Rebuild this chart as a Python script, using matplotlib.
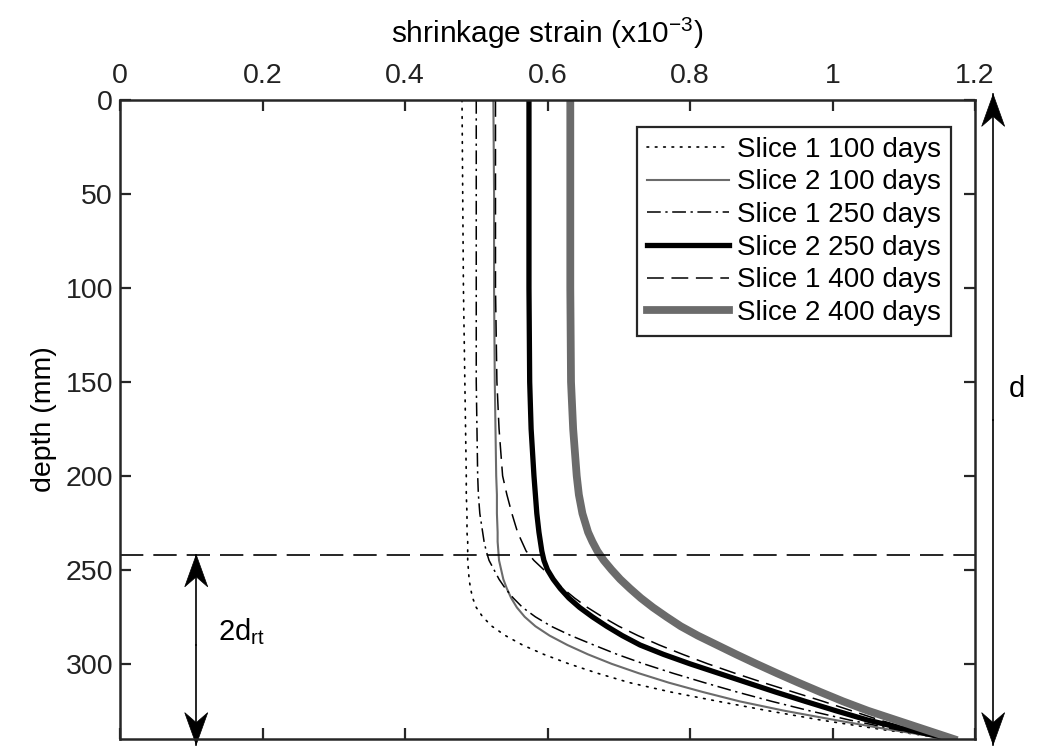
import numpy as np
import matplotlib
matplotlib.use("Agg")
import matplotlib.pyplot as plt
from matplotlib.patches import Polygon
from matplotlib.transforms import ScaledTranslation

plt.rcParams['font.family'] = ['Liberation Sans', 'DejaVu Sans']
plt.rcParams['mathtext.fontset'] = 'custom'
plt.rcParams['mathtext.rm'] = 'Liberation Sans'
plt.rcParams['mathtext.it'] = 'Liberation Sans'

# depth below top surface (mm)
depth = [0, 50, 100, 150, 175, 200, 210, 220, 230, 235, 240, 245, 250, 255, 260, 265, 270,
         275, 280, 285, 290, 295, 300, 305, 310, 315, 320, 325, 330, 335, 340]

# shrinkage strain (x10^-3) along the depth
s1_100 = [0.480, 0.481, 0.482, 0.484, 0.485, 0.486, 0.486, 0.487, 0.487, 0.488, 0.488, 0.488,
          0.489, 0.490, 0.492, 0.495, 0.500, 0.509, 0.522, 0.541, 0.565, 0.595, 0.630, 0.670,
          0.715, 0.773, 0.840, 0.910, 0.985, 1.070, 1.165]
s2_100 = [0.524, 0.525, 0.525, 0.526, 0.527, 0.528, 0.529, 0.529, 0.530, 0.530, 0.531, 0.532,
          0.535, 0.538, 0.543, 0.549, 0.557, 0.568, 0.583, 0.603, 0.628, 0.657, 0.690, 0.728,
          0.770, 0.818, 0.870, 0.933, 1.005, 1.080, 1.165]
s1_250 = [0.500, 0.500, 0.500, 0.500, 0.501, 0.502, 0.503, 0.505, 0.509, 0.511, 0.514, 0.518,
          0.525, 0.532, 0.541, 0.552, 0.565, 0.583, 0.605, 0.633, 0.665, 0.698, 0.735, 0.776,
          0.820, 0.866, 0.915, 0.968, 1.025, 1.090, 1.165]
s2_250 = [0.574, 0.574, 0.574, 0.575, 0.577, 0.581, 0.583, 0.585, 0.588, 0.590, 0.592, 0.595,
          0.600, 0.608, 0.618, 0.630, 0.645, 0.663, 0.683, 0.705, 0.730, 0.763, 0.800, 0.840,
          0.880, 0.920, 0.962, 1.005, 1.050, 1.105, 1.165]
s1_400 = [0.527, 0.527, 0.527, 0.529, 0.532, 0.537, 0.543, 0.550, 0.558, 0.564, 0.570, 0.581,
          0.595, 0.608, 0.622, 0.638, 0.656, 0.677, 0.700, 0.727, 0.757, 0.790, 0.825, 0.863,
          0.903, 0.945, 0.987, 1.027, 1.067, 1.112, 1.165]
s2_400 = [0.632, 0.632, 0.632, 0.633, 0.636, 0.641, 0.644, 0.649, 0.657, 0.663, 0.670, 0.679,
          0.690, 0.702, 0.716, 0.731, 0.748, 0.767, 0.787, 0.811, 0.838, 0.865, 0.893, 0.922,
          0.952, 0.983, 1.015, 1.050, 1.090, 1.130, 1.170]

labels = ['Slice 1 100 days', 'Slice 2 100 days', 'Slice 1 250 days',
          'Slice 2 250 days', 'Slice 1 400 days', 'Slice 2 400 days']

d_rt2 = 242      # 2*d_rt line
d_total = 340    # section depth

gray = '#6b6b6b'
ink = '#262626'

fig = plt.figure(figsize=(10.47, 7.49), dpi=100)
ax = fig.add_axes([120/1047, 10/749, 855/1047, 639/749])

ax.plot(s1_100, depth, color='k', lw=1.2, linestyle=(0, (1, 4)), dash_capstyle='round', label=labels[0])
ax.plot(s2_100, depth, color=gray, lw=1.5, label=labels[1])
ax.plot(s1_250, depth, color='k', lw=1.1, linestyle=(0, (9, 3, 1.5, 3)), label=labels[2])
ax.plot(s2_250, depth, color='k', lw=3.8, label=labels[3])
ax.plot(s1_400, depth, color='k', lw=1.1, linestyle=(0, (11, 5)), label=labels[4])
ax.plot(s2_400, depth, color=gray, lw=5.6, label=labels[5])

ax.axhline(d_rt2, color='k', lw=1.2, linestyle=(0, (14, 6)))

ax.set_xlim(0, 1.2)
ax.set_ylim(d_total, 0)
ax.set_xticks([0, 0.2, 0.4, 0.6, 0.8, 1, 1.2])
ax.set_xticklabels(['0', '0.2', '0.4', '0.6', '0.8', '1', '1.2'])
ax.set_yticks([0, 50, 100, 150, 200, 250, 300])
ax.xaxis.tick_top()
ax.xaxis.set_label_position('top')
ax.tick_params(direction='in', length=8, width=1.6, colors=ink, labelsize=20.5,
               top=True, bottom=True, left=True, right=True, pad=5)
ax.tick_params(axis='x', pad=8)
ax.tick_params(labelcolor='#222222')
for sp in ax.spines.values():
    sp.set_linewidth(1.8)
    sp.set_color(ink)

ax.set_xlabel('shrinkage strain (x10$^{-3}$)', fontsize=21.5, labelpad=14)
ax.set_ylabel('depth (mm)', fontsize=20.5, labelpad=6)

leg = ax.legend(loc='upper right', bbox_to_anchor=(0.972, 0.958), borderaxespad=0,
                fontsize=20, handlelength=2.95, handletextpad=0.3, labelspacing=0.24,
                fancybox=False, framealpha=1, edgecolor=ink, borderpad=0.35)
leg.get_frame().set_linewidth(1.6)


def arrow(x0, y_tail, y_tip):
    # shaft plus a notched arrowhead at y_tip (sizes in pixels)
    ax.plot([x0, x0], [y_tail, y_tip], color='k', lw=1.2, clip_on=False)
    back = -1 if y_tip < y_tail else 1
    head = [(0, 0), (-11.5, 32 * back), (0, 22 * back), (11.5, 32 * back)]
    head = [(hx / 100, hy / 100) for hx, hy in head]
    tr = fig.dpi_scale_trans + ScaledTranslation(x0, y_tip, ax.transData)
    ax.add_patch(Polygon(head, closed=True, facecolor='k', edgecolor='k', lw=0.5,
                         transform=tr, clip_on=False))


# overall depth d
arrow(1.2255, 170, -3)
arrow(1.2255, 170, 343)
ax.text(1.248, 154, 'd', fontsize=21, va='center', ha='left')

# 2d_rt zone
arrow(0.107, 290, d_rt2)
arrow(0.107, 290, 343)
ax.text(0.137, 283, '2d$_{\\mathrm{rt}}$', fontsize=21, va='center', ha='left')

fig.savefig('out.png', dpi=100)
